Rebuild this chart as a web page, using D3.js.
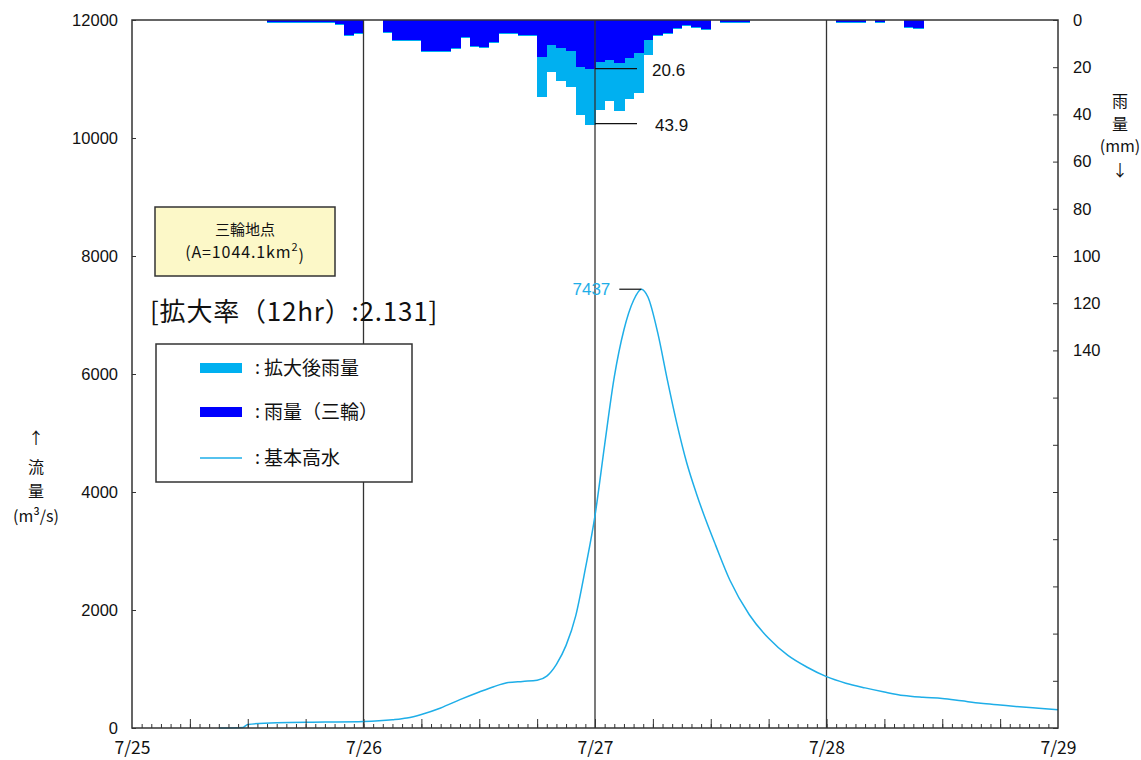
<!DOCTYPE html>
<html><head><meta charset="utf-8">
<script src="https://cdn.jsdelivr.net/npm/d3@7"></script>
<style>body{margin:0;background:#fff} svg{display:block}</style>
</head><body><svg id="c" width="1141" height="760"></svg>
<script>
// ---- data ----
const flowTicks = [0, 2000, 4000, 6000, 8000, 10000, 12000];
const rainTicks = [0,20,40,60,80,100,120,140,160,180,200,220,240,260,280,300];
const rainLabelMax = 140;
const dayHours = [0, 24, 48, 72, 96];
const dayLabels = ["7/25", "7/26", "7/27", "7/28", "7/29"];

// hourly rainfall (mm), first bar starts 7/25 14:00
const rainStartHour = 14;
const rainObs = [1,1,1,1,1,1,1,1.9,6.4,5.6,0,0,5.0,8.5,8.5,8.5,13,13,13,12,7,11,11.5,9.5,5.6,5.6,6.2,6.4,
  15.5,10.5,12,13,19.8,20.6,17.7,17,18.4,16.2,14.1,8.5,
  6.2,5.4,3.5,2.1,3.0,4.0,0,1,1,1,0,0,0,0,0,0,0,0,0,1,1,1,0,1,0,0,2.8,3.2];
const rainExp = [1,1,1,1,1,1,1,1.9,6.4,5.6,0,0,5.0,8.5,8.5,8.5,13,13,13,12,7,11,11.5,9.5,5.6,5.6,6.2,6.4,
  32,21.5,25.5,28,40,43.9,37.5,34,38,33,30.4,14.5,
  6.2,5.4,3.5,2.1,3.0,4.0,0,1,1,1,0,0,0,0,0,0,0,0,0,1,1,1,0,1,0,0,2.8,3.2];

// design flood hydrograph (hours from 7/25 0:00, m3/s)
const flowHours = [9,11.5,12,15,20,24,27,28.5,30,32,34,36,37.5,39,40.5,42,43,44,45,46,47,48,49,50,51,52,52.8,
  53.5,54.5,55.5,56.5,57.5,58.5,59.5,60.5,62,64,66,68,70,72,74,76,78,80,82,84,86,88,90,92,94,96];
const flowValues = [0,10,60,90,100,110,140,170,230,340,480,610,700,770,790,810,880,1080,1400,1900,2700,3600,4800,5950,6750,7250,7437,
  7300,6700,5900,5150,4500,3980,3520,3100,2500,1920,1520,1230,1030,870,760,680,610,550,520,500,460,420,390,360,335,310];

const peakValue = 7437;
const peakHour = 52.8;
const rainMaxObs = 20.6, rainMaxExp = 43.9;

// ---- layout ----
const L = 132, R = 1058, T = 20, B = 728;
const svg = d3.select("#c");
const numFont = "'Liberation Sans', Arial, sans-serif";
const jpFont = "'Noto Sans CJK JP', 'Noto Sans', sans-serif";

const x = d3.scaleLinear().domain([0, 96]).range([L, R]);
const yF = d3.scaleLinear().domain([0, 12000]).range([B, T]);
const yR = d3.scaleLinear().domain([0, 300]).range([T, B]);

const LIGHT = "#00b0f0", DARK = "#0000ff", LINE = "#1eaee8", AX = "#333";

// rain bars
const rain = rainObs.map((v, i) => ({h: rainStartHour + i, obs: v, exp: rainExp[i]}));
svg.append("g").attr("shape-rendering", "crispEdges").selectAll("rect").data(rain.filter(d => d.exp > 0)).join("rect")
  .attr("x", d => x(d.h)).attr("width", d => x(d.h + 1) - x(d.h) + 0.6)
  .attr("y", T).attr("height", d => yR(d.exp) - T + 1).attr("fill", LIGHT);
svg.append("g").attr("shape-rendering", "crispEdges").selectAll("rect").data(rain.filter(d => d.obs > 0)).join("rect")
  .attr("x", d => x(d.h)).attr("width", d => x(d.h + 1) - x(d.h) + 0.6)
  .attr("y", T).attr("height", d => yR(d.obs) - T).attr("fill", DARK);

// day lines
svg.append("g").selectAll("line").data(dayHours.slice(1, -1)).join("line")
  .attr("x1", d => x(d)).attr("x2", d => x(d)).attr("y1", T).attr("y2", B)
  .attr("stroke", AX).attr("stroke-width", 1.3);

// flow line
const pts = flowHours.map((h, i) => [h, flowValues[i]]);
svg.append("path").datum(pts)
  .attr("d", d3.line().curve(d3.curveMonotoneX).x(d => x(d[0])).y(d => yF(d[1])))
  .attr("fill", "none").attr("stroke", LINE).attr("stroke-width", 1.5);

// frame
svg.append("rect").attr("x", L).attr("y", T).attr("width", R - L).attr("height", B - T)
  .attr("fill", "none").attr("stroke", AX).attr("stroke-width", 1.5);

// axes
function styleAxis(g, font, size) {
  g.select(".domain").remove();
  g.selectAll("line").attr("stroke", AX);
  g.selectAll("text").attr("font-family", font).attr("font-size", size).attr("fill", "#111");
}
const ga = svg.append("g").attr("transform", `translate(${L},0)`)
  .call(d3.axisLeft(yF).tickValues(flowTicks).tickSize(-4).tickPadding(14).tickFormat(d3.format("d")));
styleAxis(ga, numFont, 16.5);
const gr = svg.append("g").attr("transform", `translate(${R},0)`)
  .call(d3.axisRight(yR).tickValues(rainTicks).tickSize(-5).tickPadding(15).tickFormat(d => d <= rainLabelMax ? d : ""));
styleAxis(gr, numFont, 16.5);
const gh = svg.append("g").attr("transform", `translate(0,${B})`)
  .call(d3.axisBottom(x).tickValues(d3.range(1, 96)).tickSize(-4).tickFormat(""));
styleAxis(gh, numFont, 10);
const g6 = svg.append("g").attr("transform", `translate(0,${B})`)
  .call(d3.axisBottom(x).tickValues(d3.range(6, 96, 6)).tickSize(-9).tickFormat(""));
styleAxis(g6, numFont, 10);
const gd = svg.append("g").attr("transform", `translate(0,${B})`)
  .call(d3.axisBottom(x).tickValues(dayHours).tickSize(0).tickPadding(14).tickFormat((d, i) => dayLabels[i]));
styleAxis(gd, jpFont, 17.5);

// axis titles
const lt = [["↑", 438], ["流", 467], ["量", 491], ["(m³/s)", 516]];
svg.append("g").selectAll("text").data(lt).join("text")
  .attr("x", 36).attr("y", d => d[1]).attr("dy", "0.35em").attr("text-anchor", "middle")
  .attr("font-family", jpFont).attr("font-size", 16).attr("fill", "#111").text(d => d[0]);
const rt = [["雨", 101], ["量", 124], ["(mm)", 146], ["↓", 170]];
svg.append("g").selectAll("text").data(rt).join("text")
  .attr("x", 1120).attr("y", d => d[1]).attr("dy", "0.35em").attr("text-anchor", "middle")
  .attr("font-family", jpFont).attr("font-size", 16).attr("fill", "#111").text(d => d[0]);

// station box
svg.append("rect").attr("x", 155).attr("y", 207).attr("width", 180).attr("height", 69)
  .attr("fill", "#fcf8c8").attr("stroke", AX).attr("stroke-width", 1.5);
svg.append("text").attr("x", 245).attr("y", 230).attr("dy", "0.35em").attr("text-anchor", "middle")
  .attr("font-family", jpFont).attr("font-size", 15).attr("fill", "#111").text("三輪地点");
const st = svg.append("text").attr("x", 245).attr("y", 252).attr("dy", "0.35em").attr("text-anchor", "middle")
  .attr("font-family", jpFont).attr("font-size", 16).attr("letter-spacing", 0.9).attr("fill", "#111");
st.append("tspan").text("(A=1044.1km");
st.append("tspan").attr("font-size", 11).attr("dy", "-0.6em").text("2");
st.append("tspan").attr("dy", "0.6em").text(")");

// ratio text
svg.append("text").attr("x", 150).attr("y", 312).attr("dy", "0.35em")
  .attr("font-family", jpFont).attr("font-size", 26).attr("letter-spacing", 0.8).attr("fill", "#111").text("[拡大率（12hr）:2.131]");

// legend
svg.append("rect").attr("x", 156).attr("y", 344).attr("width", 256).attr("height", 138)
  .attr("fill", "#fff").attr("stroke", AX).attr("stroke-width", 1.5);
const leg = [
  {t: "拡大後雨量", y: 368, type: "rect", c: LIGHT},
  {t: "雨量（三輪）", y: 412, type: "rect", c: DARK},
  {t: "基本高水", y: 458, type: "line", c: LINE}
];
leg.forEach(d => {
  if (d.type === "rect") svg.append("rect").attr("x", 200).attr("y", d.y - 5).attr("width", 42).attr("height", 10).attr("fill", d.c);
  else svg.append("line").attr("x1", 200).attr("x2", 242).attr("y1", d.y).attr("y2", d.y).attr("stroke", d.c).attr("stroke-width", 1.5);
  svg.append("text").attr("x", 255).attr("y", d.y).attr("dy", "0.35em")
    .attr("font-family", jpFont).attr("font-size", 18).attr("fill", "#111").text(":");
  svg.append("text").attr("x", 264).attr("y", d.y).attr("dy", "0.35em")
    .attr("font-family", jpFont).attr("font-size", 19).attr("fill", "#111").text(d.t);
});

// peak annotation
svg.append("line").attr("x1", x(peakHour) - 22).attr("x2", x(peakHour)).attr("y1", yF(peakValue)).attr("y2", yF(peakValue))
  .attr("stroke", "#111").attr("stroke-width", 1.2);
svg.append("text").attr("x", x(peakHour) - 31).attr("y", yF(peakValue)).attr("dy", "0.35em").attr("text-anchor", "end")
  .attr("font-family", numFont).attr("font-size", 17).attr("fill", LINE).text(peakValue);

// rain max annotations
[[rainMaxObs, 652], [rainMaxExp, 655]].forEach(([v, tx]) => {
  svg.append("line").attr("x1", x(48)).attr("x2", x(48) + 42).attr("y1", yR(v)).attr("y2", yR(v))
    .attr("stroke", "#111").attr("stroke-width", 1.2);
  svg.append("text").attr("x", tx).attr("y", yR(v) + 1).attr("dy", "0.35em")
    .attr("font-family", numFont).attr("font-size", 17).attr("fill", "#111").text(v.toFixed(1));
});
</script></body></html>
